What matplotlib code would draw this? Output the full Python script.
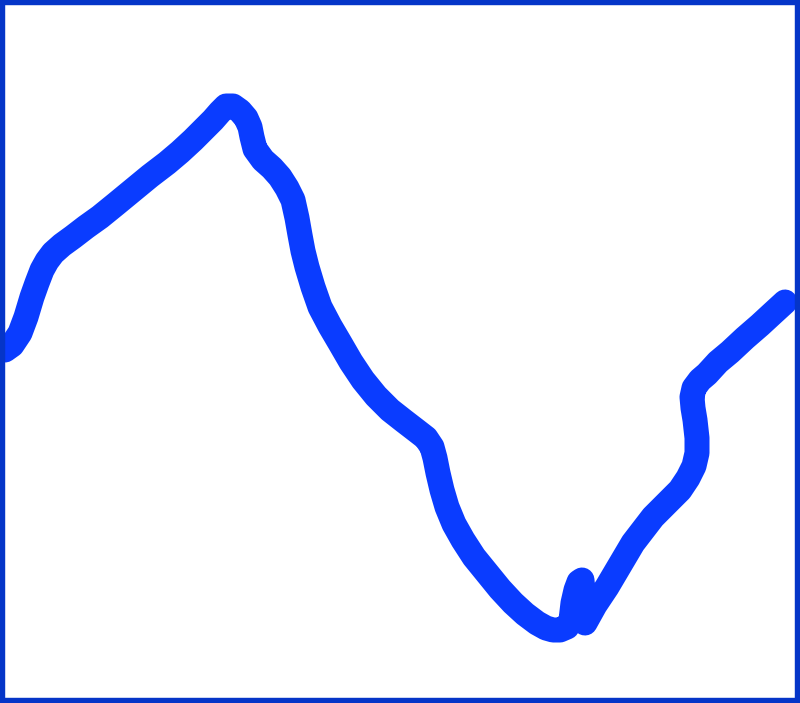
import matplotlib

matplotlib.use("Agg")
import matplotlib.pyplot as plt

# traced path of the stroke (x right, y down, image-like units)
xs = [5, 12, 20, 26, 32, 37, 42, 47, 53, 62, 73, 86, 100, 116, 133, 150,
      167, 180, 193, 203, 213, 220, 226, 233, 240, 246, 250, 252, 255, 263,
      272, 280, 287, 293, 297, 300, 303, 307, 313, 320, 330, 340, 351, 363,
      376, 390, 404, 417, 426, 432, 435, 438, 442, 447, 454, 463, 474, 487,
      500, 513, 525, 537, 546, 553, 560, 567, 571, 573, 576, 579, 582, 583,
      584, 585, 595, 607, 620, 633, 643, 653, 662, 670, 680, 688, 694, 697,
      697, 695, 693, 692, 694, 700, 707, 718, 730, 745, 760, 773, 785]
ys = [350, 345, 333, 317, 297, 283, 270, 261, 253, 245, 237, 227, 217, 204,
      190, 176, 163, 152, 140, 130, 120, 112, 106, 106, 111, 118, 127, 137,
      149, 160, 168, 177, 188, 200, 218, 235, 251, 267, 287, 307, 326, 343,
      362, 380, 396, 410, 421, 431, 438, 447, 458, 473, 490, 507, 524, 540,
      557, 573, 589, 603, 614, 623, 628, 630, 630, 627, 620, 603, 590, 582,
      580, 592, 603, 623, 605, 587, 565, 543, 530, 517, 508, 500, 490, 478,
      466, 453, 438, 420, 408, 397, 388, 380, 374, 362, 352, 338, 325, 313,
      302]

LINE_COLOR = "#0a3cff"
FRAME_COLOR = "#0535c8"

fig = plt.figure(figsize=(8.0, 7.03), dpi=100)
ax = fig.add_axes([0, 0, 1, 1])
ax.plot(xs, ys, color=LINE_COLOR, linewidth=18,
        solid_capstyle="round", solid_joinstyle="round")
ax.set_xlim(0, 800)
ax.set_ylim(703, 0)
ax.set_xticks([])
ax.set_yticks([])
for spine in ax.spines.values():
    spine.set_color(FRAME_COLOR)
    spine.set_linewidth(7.5)

fig.savefig("out.png", dpi=100)
